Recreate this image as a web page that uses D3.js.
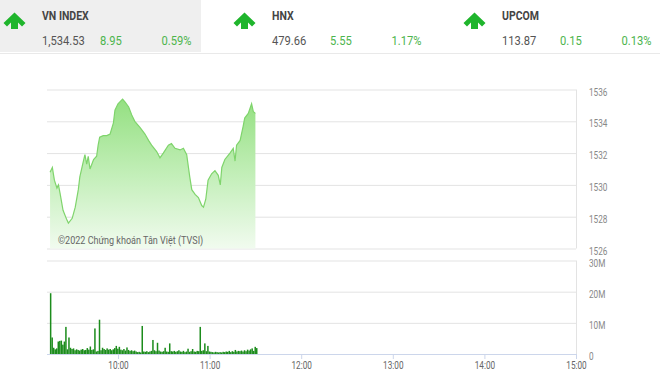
<!DOCTYPE html>
<html>
<head>
<meta charset="utf-8">
<script src="https://cdn.jsdelivr.net/npm/d3@7/dist/d3.min.js"></script>
<style>
  body { margin: 0; background: #fff; }
  svg text { font-family: Roboto, "Open Sans", sans-serif; }
</style>
</head>
<body>
<div id="chart"></div>
<script>
// Header quotes
var QUOTE_NAMES = ["VN INDEX", "HNX", "UPCOM"];
var QUOTE_PRICES = ["1,534.53", "479.66", "113.87"];
var QUOTE_CHANGES = ["8.95", "5.55", "0.15"];
var QUOTE_PCTS = ["0.59%", "1.17%", "0.13%"];

// Intraday index (time, points)
var INDEX_TIMES = [
  "09:15:30", "09:17:00", "09:18:20", "09:20:00", "09:21:00", "09:22:00", "09:24:00",
  "09:26:30", "09:27:30", "09:30:00", "09:32:00", "09:34:00", "09:35:00", "09:37:20",
  "09:38:20", "09:39:30", "09:40:30", "09:41:40", "09:44:00", "09:46:00", "09:47:00",
  "09:48:00", "09:50:20", "09:52:40", "09:54:50", "09:57:00", "09:58:00", "10:00:00",
  "10:03:00", "10:04:40", "10:07:00", "10:09:00", "10:11:00", "10:14:30", "10:17:40",
  "10:20:00", "10:22:00", "10:25:20", "10:27:30", "10:29:40", "10:33:00", "10:35:00",
  "10:37:20", "10:40:40", "10:42:50", "10:45:00", "10:47:00", "10:48:20", "10:50:30",
  "10:52:40", "10:54:50", "10:56:00", "10:57:30", "10:59:00", "11:01:20", "11:03:30",
  "11:05:40", "11:07:00", "11:08:00", "11:10:00", "11:13:20", "11:15:30", "11:16:40",
  "11:17:40", "11:20:00", "11:22:00", "11:23:00", "11:25:20", "11:27:30", "11:28:40",
  "11:30:00"
];
var INDEX_VALUES = [
  1530.8, 1531.1, 1530.3, 1529.8, 1530.0, 1529.5, 1528.4,
  1527.8, 1527.6, 1527.9, 1528.6, 1529.7, 1530.5, 1531.5,
  1531.9, 1531.3, 1531.8, 1531.0, 1531.6, 1531.8, 1532.5,
  1533.0, 1533.1, 1533.1, 1533.2, 1533.9, 1534.7, 1535.1,
  1535.4, 1535.2, 1534.9, 1534.4, 1534.0, 1533.6, 1533.2,
  1532.8, 1532.5, 1532.1, 1531.7, 1532.0, 1532.5, 1532.6,
  1532.3, 1532.2, 1532.3, 1531.9, 1530.5, 1529.7, 1529.4,
  1529.2, 1528.7, 1528.6, 1529.1, 1530.3, 1530.7, 1530.9,
  1530.6, 1530.0, 1531.1, 1531.6, 1532.0, 1532.3, 1531.5,
  1532.5, 1532.8, 1533.7, 1534.2, 1534.5, 1535.1, 1534.6,
  1534.5
];

// Volume per minute from 09:15 (millions of shares)
var VOLUME_START = "09:15:00";
var VOLUME_VALUES = [
  19.5, 5.3, 2.0, 1.5, 1.8, 4.0, 4.2, 4.3, 3.0, 4.0,
  8.7, 1.5, 5.3, 2.0, 1.6, 1.8, 1.2, 1.5, 1.3, 1.1,
  1.4, 1.6, 1.2, 1.3, 1.9, 1.4, 2.4, 1.3, 1.5, 8.2,
  0.8, 1.0, 11.0, 1.2, 2.0, 1.6, 1.3, 1.8, 1.4, 1.6,
  1.2, 1.5, 1.9, 2.6, 1.7, 2.3, 1.4, 1.2, 1.6, 1.1,
  2.1, 1.3, 1.0, 1.2, 0.9, 1.1, 0.8, 0.6, 0.7, 0.5,
  9.0, 0.8, 0.7, 0.9, 0.6, 0.8, 1.0, 4.5, 1.2, 0.9,
  3.6, 1.1, 0.8, 0.7, 0.9, 2.0, 0.8, 0.7, 3.4, 0.9,
  0.8, 1.0, 0.7, 0.9, 1.2, 0.8, 0.7, 1.0, 0.6, 0.8,
  1.7, 0.7, 0.9, 1.6, 0.8, 0.7, 1.0, 0.9, 8.7, 1.0,
  1.2, 3.4, 0.9, 2.6, 0.8, 0.7, 0.6, 0.5, 0.7, 0.6,
  0.5, 0.6, 0.5, 0.7, 0.6, 0.8, 0.7, 1.0, 0.6, 0.9,
  0.7, 1.3, 0.8, 1.0, 0.9, 1.1, 0.8, 1.2, 0.9, 1.4,
  1.1, 1.5, 1.8, 1.0, 2.3, 1.9
];

// Axes
var SESSION = ["09:15:00", "15:00:00"];
var TIME_TICKS = ["10:00:00", "11:00:00", "12:00:00", "13:00:00", "14:00:00", "15:00:00"];
var INDEX_TICKS = [1526, 1528, 1530, 1532, 1534, 1536];
var VOLUME_TICKS = [0, 10, 20, 30];
var COPYRIGHT = "©2022 Chứng khoán Tân Việt (TVSI)";

var parseTime = d3.timeParse("%H:%M:%S");

// squeeze text to mimic the condensed face of the original
var condense = function(selection, factor) {
  selection.each(function() {
    var w = this.getComputedTextLength();
    d3.select(this)
      .attr("textLength", w * factor)
      .attr("lengthAdjust", "spacingAndGlyphs");
  });
};

var render = function() {
  var width = 660;
  var height = 382;

  var svg = d3.select("#chart")
    .append("svg")
    .attr("width", width)
    .attr("height", height);

  renderHeader(svg);
  renderCharts(svg);
};

var renderHeader = function(svg) {
  var boxWidth = 230;

  svg.append("rect")
    .attr("x", 0).attr("y", 0)
    .attr("width", 201).attr("height", 52)
    .attr("fill", "#efefef");

  svg.append("line")
    .attr("x1", 0).attr("x2", 660)
    .attr("y1", 53.5).attr("y2", 53.5)
    .attr("stroke", "#e9e9e9");

  var quotes = svg.selectAll(".quote")
    .data(QUOTE_NAMES)
    .enter()
    .append("g")
    .attr("class", "quote")
    .attr("transform", (d, i) => "translate(" + i * boxWidth + ",0)");

  // up arrow
  quotes.append("path")
    .attr("transform", "translate(14.5,12.5)")
    .attr("d", "M0,0 L11,10.5 L7.5,14 L3.5,10 L3.5,16.5 L-3.5,16.5 L-3.5,10 L-7.5,14 L-11,10.5 Z")
    .attr("fill", "#1fb52c");

  quotes.append("text")
    .attr("x", 42).attr("y", 19.5)
    .attr("font-size", 12.5)
    .attr("font-weight", "bold")
    .attr("fill", "#444")
    .text(d => d)
    .call(condense, 0.84);

  quotes.append("text")
    .attr("x", 42).attr("y", 45)
    .attr("font-size", 13)
    .attr("fill", "#555")
    .text((d, i) => QUOTE_PRICES[i])
    .call(condense, 0.86);

  quotes.append("text")
    .attr("x", 100).attr("y", 45)
    .attr("font-size", 13)
    .attr("fill", "#4db54d")
    .text((d, i) => QUOTE_CHANGES[i])
    .call(condense, 0.86);

  quotes.append("text")
    .attr("x", 191.5).attr("y", 45)
    .attr("text-anchor", "end")
    .attr("font-size", 13)
    .attr("fill", "#4db54d")
    .text((d, i) => QUOTE_PCTS[i])
    .call(condense, 0.86);
};

var renderCharts = function(svg) {
  var plotLeft = 47;
  var plotRight = 576;

  var xScale = d3.scaleTime()
    .domain(SESSION.map(parseTime))
    .range([49.3, plotRight]);

  var yIndex = d3.scaleLinear()
    .domain([1526, 1536])
    .range([248.5, 89.5]);

  var yVolume = d3.scaleLinear()
    .domain([0, 30])
    .range([354, 260.5]);

  // gradient for the index area
  var grad = svg.append("defs")
    .append("linearGradient")
    .attr("id", "indexFill")
    .attr("gradientUnits", "userSpaceOnUse")
    .attr("x1", 0).attr("x2", 0)
    .attr("y1", yIndex(1536)).attr("y2", yIndex(1526));
  grad.append("stop").attr("offset", "0%").attr("stop-color", "#8ede7a");
  grad.append("stop").attr("offset", "55%").attr("stop-color", "#c4efba");
  grad.append("stop").attr("offset", "100%").attr("stop-color", "#f1fbef");

  // index grid + right labels
  var indexAxis = svg.append("g")
    .attr("class", "y axis index")
    .attr("transform", "translate(" + plotRight + ",0)")
    .call(
      d3.axisRight(yIndex)
        .tickValues(INDEX_TICKS)
        .tickFormat(d3.format("d"))
        .tickSize(-(plotRight - plotLeft))
        .tickPadding(13)
    );
  indexAxis.select(".domain").remove();
  indexAxis.selectAll("line").attr("stroke", "#e3e3e3");
  indexAxis.selectAll("text")
    .attr("fill", "#888")
    .attr("font-size", 10)
    .attr("dy", "0.55em")
    .call(condense, 0.82);

  svg.append("line")
    .attr("x1", plotRight + 0.5).attr("x2", plotRight + 0.5)
    .attr("y1", yIndex(1536)).attr("y2", yIndex(1526))
    .attr("stroke", "#e3e3e3");

  var indexData = INDEX_TIMES.map((t, i) => ({ time: parseTime(t), value: INDEX_VALUES[i] }));

  var area = d3.area()
    .x(d => xScale(d.time))
    .y0(yIndex(1526))
    .y1(d => yIndex(d.value));

  var line = d3.line()
    .x(d => xScale(d.time))
    .y(d => yIndex(d.value));

  svg.append("path")
    .datum(indexData)
    .attr("d", area)
    .attr("fill", "url(#indexFill)");

  svg.append("path")
    .datum(indexData)
    .attr("d", line)
    .attr("fill", "none")
    .attr("stroke", "#7fd46c")
    .attr("stroke-width", 1.2);

  svg.append("text")
    .attr("x", 58).attr("y", 243.5)
    .attr("font-size", 10.5)
    .attr("fill", "#666")
    .text(COPYRIGHT)
    .call(condense, 0.86);

  // volume grid + right labels
  var volumeAxis = svg.append("g")
    .attr("class", "y axis volume")
    .attr("transform", "translate(" + plotRight + ",0)")
    .call(
      d3.axisRight(yVolume)
        .tickValues(VOLUME_TICKS)
        .tickSize(-(plotRight - plotLeft))
        .tickPadding(13)
        .tickFormat(d => d ? d + "M" : "0")
    );
  volumeAxis.select(".domain").remove();
  volumeAxis.selectAll("line").attr("stroke", "#e3e3e3");
  volumeAxis.selectAll("text")
    .attr("fill", "#888")
    .attr("font-size", 10)
    .attr("dy", "0.55em")
    .call(condense, 0.82);

  svg.append("line")
    .attr("x1", plotRight + 0.5).attr("x2", plotRight + 0.5)
    .attr("y1", yVolume(30)).attr("y2", yVolume(0))
    .attr("stroke", "#e3e3e3");

  // volume bars
  var start = parseTime(VOLUME_START);
  var volumeData = VOLUME_VALUES.map((v, i) => ({ time: d3.timeMinute.offset(start, i), value: v }));

  svg.append("g")
    .attr("class", "bars")
    .selectAll("rect")
    .data(volumeData)
    .enter()
    .append("rect")
    .attr("x", d => xScale(d.time) + 0.6)
    .attr("width", 1.5)
    .attr("y", d => yVolume(d.value))
    .attr("height", d => yVolume(0) - yVolume(d.value))
    .attr("fill", "#1c8c1c");

  // time axis
  var timeAxis = svg.append("g")
    .attr("class", "x axis")
    .attr("transform", "translate(0," + yVolume(0) + ")")
    .call(
      d3.axisBottom(xScale)
        .tickValues(TIME_TICKS.map(parseTime))
        .tickFormat(d3.timeFormat("%H:%M"))
        .tickSize(5)
        .tickSizeOuter(0)
        .tickPadding(3)
    );
  timeAxis.select(".domain")
    .attr("stroke", "#ccd6eb")
    .attr("d", "M" + plotLeft + ",0.5H" + (plotRight + 0.5));
  timeAxis.selectAll("line").attr("stroke", "#ccd6eb");
  timeAxis.selectAll("text")
    .attr("fill", "#666")
    .attr("font-size", 10)
    .call(condense, 0.82);
};

window.onload = render;
</script>
</body>
</html>
